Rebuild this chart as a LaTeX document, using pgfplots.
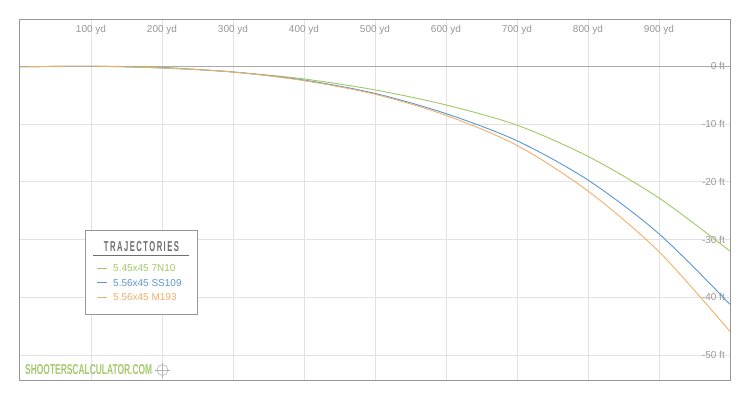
\documentclass[border=0pt]{standalone}
\usepackage{pgfplots}
\pgfplotsset{compat=1.18}
\usepackage{graphicx}
\usepackage{fontspec}
\setmainfont{Liberation Sans}
\newfontfamily\condfont[FakeStretch=0.62]{Liberation Sans}
\definecolor{cgreen}{RGB}{160,200,100}
\definecolor{cblue}{RGB}{90,150,210}
\definecolor{corange}{RGB}{240,175,105}
\definecolor{gridc}{RGB}{226,226,226}
\definecolor{zeroc}{RGB}{170,170,170}
\definecolor{framec}{RGB}{150,150,150}
\definecolor{labelc}{RGB}{150,150,150}
\definecolor{titlec}{RGB}{110,110,110}
\definecolor{wmark}{RGB}{165,200,110}
\begin{document}
\begin{tikzpicture}[x=1pt,y=1pt]
\path (0,0) rectangle (750,400);
\begin{axis}[at={(20pt,20pt)}, anchor=south west, scale only axis,
  width=710pt, height=360pt,
  xmin=0, xmax=1000, ymin=-54.3, ymax=8,
  axis line style={framec, line width=1pt},
  xtick={100,200,...,900}, ytick={-50,-40,-30,-20,-10,0},
  xticklabels={}, yticklabels={}, major tick length=0pt,
  grid=major, grid style={gridc, line width=0.8pt},
  clip mode=individual]
\draw[zeroc, line width=1pt] (axis cs:0,0) -- (axis cs:1000,0);
\pgfplotsinvokeforeach{100,200,...,900}{
  \node[font=\fontsize{10}{12}\selectfont, text=labelc, inner sep=0pt, anchor=center, yshift=-10pt] at (axis cs:#1,8) {#1 yd};
}
\pgfplotsinvokeforeach{0,-10,-20,-30,-40,-50}{
  \node[font=\fontsize{10}{12}\selectfont, text=labelc, inner sep=0pt, anchor=east, xshift=-5pt] at (axis cs:1000,#1) {#1 ft};
}
\addplot[cgreen, line width=0.9pt, smooth] coordinates {
(0,-0.1) (100,0) (200,-0.2) (300,-1.0) (400,-2.2) (500,-4.1) (600,-6.7) (700,-10.2) (800,-15.6) (900,-22.8) (1000,-32.0)};
\addplot[cblue, line width=0.9pt, smooth] coordinates {
(0,-0.1) (100,0) (200,-0.3) (300,-1.0) (400,-2.4) (500,-4.7) (600,-8.2) (700,-12.9) (800,-19.7) (900,-29.0) (1000,-41.2)};
\addplot[corange, line width=0.9pt, smooth] coordinates {
(0,-0.1) (100,0) (200,-0.3) (300,-1.0) (400,-2.5) (500,-4.85) (600,-8.5) (700,-13.7) (800,-21.6) (900,-32.1) (1000,-45.9)};
\end{axis}
% legend
\draw[framec, line width=1pt, fill=white] (85,170) rectangle (197,86);
\node[inner sep=0pt, text=titlec] at (141.5,153) {\resizebox{75pt}{10pt}{\condfont\bfseries\addfontfeature{LetterSpace=12}TRAJECTORIES}};
\draw[titlec, line width=1pt] (93,145) -- (189,145);
\draw[cgreen, line width=0.9pt] (97,131.7) -- (107,131.7);
\node[anchor=west, inner sep=0pt, text=cgreen, font=\fontsize{10}{12}\selectfont] at (113,131.7) {5.45x45 7N10};
\draw[cblue, line width=0.9pt] (97,117.2) -- (107,117.2);
\node[anchor=west, inner sep=0pt, text=cblue, font=\fontsize{10}{12}\selectfont] at (113,117.2) {5.56x45 SS109};
\draw[corange, line width=0.9pt] (97,102.7) -- (107,102.7);
\node[anchor=west, inner sep=0pt, text=corange, font=\fontsize{10}{12}\selectfont] at (113,102.7) {5.56x45 M193};
% watermark
\node[anchor=west, inner sep=0pt, text=wmark] at (25,30) {\resizebox{127pt}{10pt}{\condfont\bfseries SHOOTERSCALCULATOR.COM}};
\draw[gray!60, line width=0.6pt] (162.5,30) circle (5.5);
\draw[gray!60, line width=0.6pt] (155,30) -- (170,30) (162.5,22.5) -- (162.5,37.5);
\end{tikzpicture}
\end{document}
